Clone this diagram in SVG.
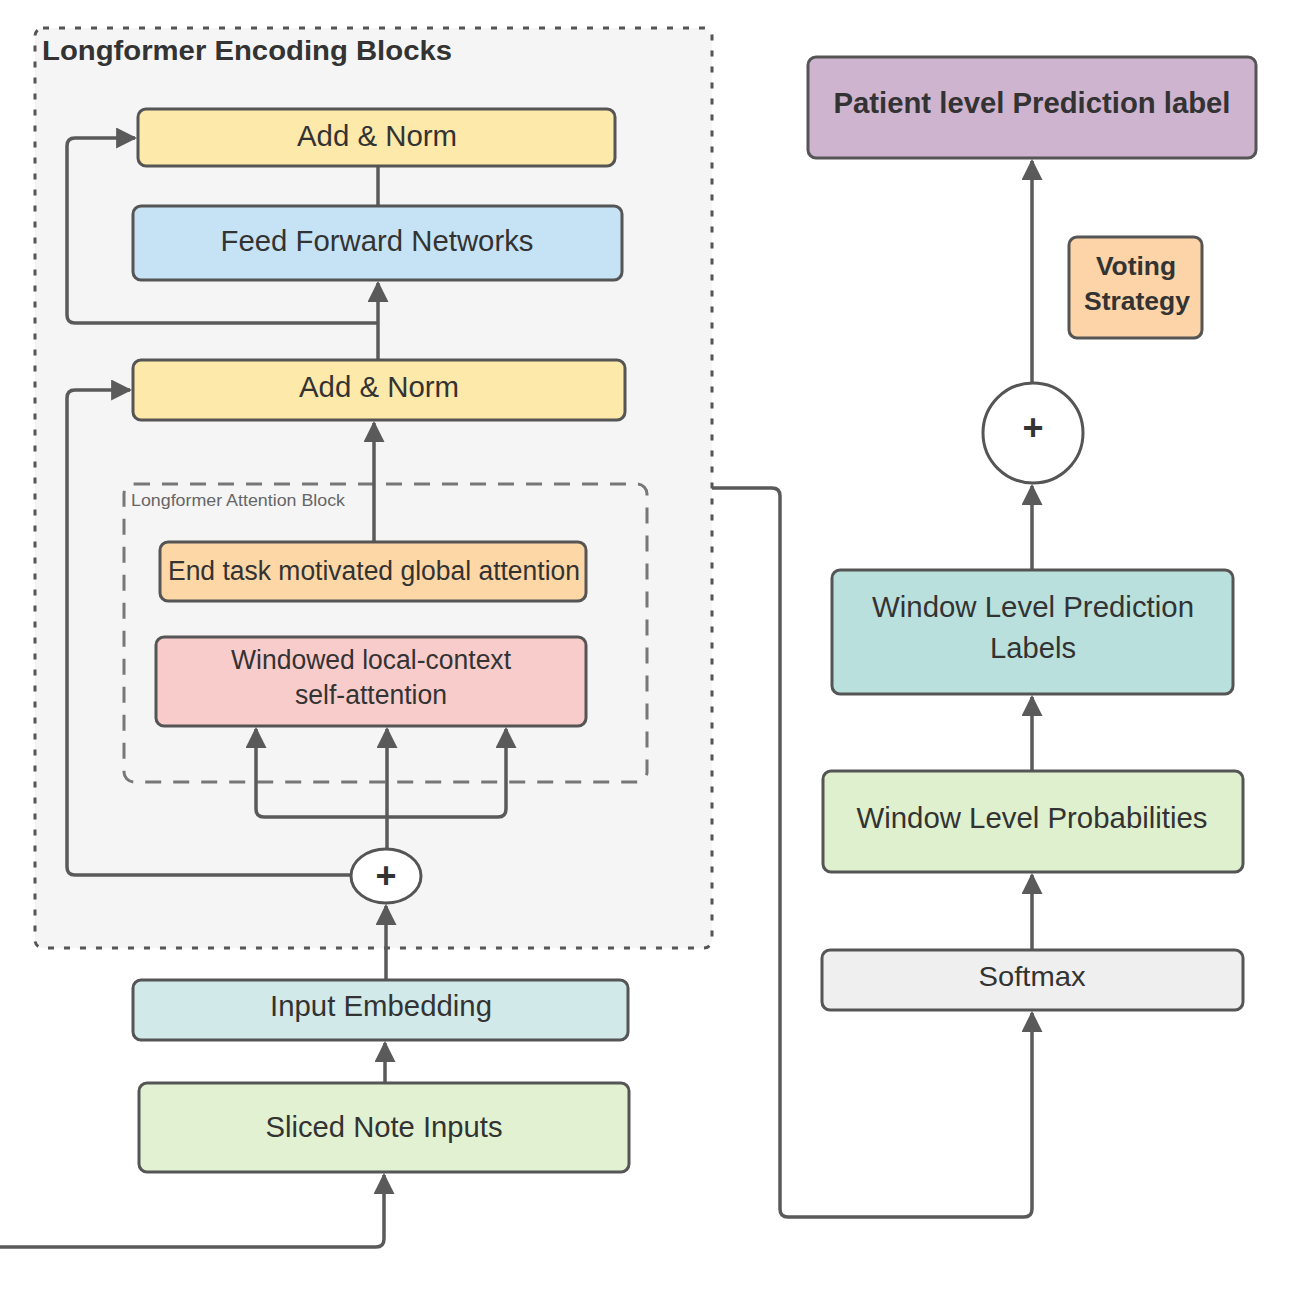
<svg xmlns="http://www.w3.org/2000/svg" width="1290" height="1290" viewBox="0 0 1290 1290">
<defs>
<marker id="ah" viewBox="0 0 10 10" refX="9" refY="5" markerWidth="6" markerHeight="6" orient="auto" markerUnits="strokeWidth">
<path d="M0,0 L10,5 L0,10 z" fill="#5a5a5a"/>
</marker>
<style>
.box{stroke:#555;stroke-width:3}
.t{font-family:"Liberation Sans",Arial,sans-serif;fill:#333;text-anchor:middle}
.c{fill:none;stroke:#5a5a5a;stroke-width:3.5;stroke-linejoin:round}
.a{marker-end:url(#ah)}
</style>
</defs>
<rect width="1290" height="1290" fill="#ffffff"/>
<g id="encoding-blocks">
<rect x="35" y="28" width="677" height="920" rx="8" fill="#f5f5f5" stroke="#555" stroke-width="3" stroke-dasharray="6 10"/>
<text x="42" y="60" font-family="Liberation Sans,Arial,sans-serif" font-weight="bold" font-size="28" fill="#333" textLength="410" lengthAdjust="spacingAndGlyphs">Longformer Encoding Blocks</text>
</g>
<g id="attention-block">
<rect x="124" y="484" width="523" height="298" rx="10" fill="none" stroke="#777" stroke-width="3" stroke-dasharray="16 12"/>
<text x="131" y="506" font-family="Liberation Sans,Arial,sans-serif" font-size="17" fill="#666" textLength="214" lengthAdjust="spacingAndGlyphs">Longformer Attention Block</text>
</g>
<g id="connectors">
<path class="c" d="M378,166 L378,206"/>
<path class="c a" d="M378,360 L378,283"/>
<path class="c a" d="M378,323 L75,323 Q67,323 67,315 L67,146 Q67,138 75,138 L135,138"/>
<path class="c a" d="M374,542 L374,423"/>
<path class="c a" d="M350,875 L75,875 Q67,875 67,867 L67,398 Q67,390 75,390 L130,390"/>
<path class="c a" d="M387,848 L387,729"/>
<path class="c a" d="M387,817 L264,817 Q256,817 256,809 L256,729"/>
<path class="c a" d="M387,817 L498,817 Q506,817 506,809 L506,729"/>
<path class="c a" d="M386,980 L386,906"/>
<path class="c a" d="M385,1083 L385,1043"/>
<path class="c a" d="M0,1247 L376,1247 Q384,1247 384,1239 L384,1175"/>
<path class="c a" d="M712,488 L772,488 Q780,488 780,496 L780,1209 Q780,1217 788,1217 L1024,1217 Q1032,1217 1032,1209 L1032,1013"/>
<path class="c a" d="M1032,950 L1032,875"/>
<path class="c a" d="M1032,771 L1032,697"/>
<path class="c a" d="M1032,570 L1032,486"/>
<path class="c a" d="M1032,383 L1032,161"/>
</g>
<g id="add-norm-top">
<rect class="box" x="138" y="109" width="477" height="57" rx="8" fill="#fde9a9"/>
<text class="t" x="377" y="146" font-size="30" textLength="160" lengthAdjust="spacingAndGlyphs">Add &amp; Norm</text>
</g>
<g id="feed-forward">
<rect class="box" x="133" y="206" width="489" height="74" rx="8" fill="#c6e3f5"/>
<text class="t" x="377" y="251" font-size="30" textLength="313" lengthAdjust="spacingAndGlyphs">Feed Forward Networks</text>
</g>
<g id="add-norm-bottom">
<rect class="box" x="133" y="360" width="492" height="60" rx="8" fill="#fde9a9"/>
<text class="t" x="379" y="397" font-size="30" textLength="160" lengthAdjust="spacingAndGlyphs">Add &amp; Norm</text>
</g>
<g id="global-attention">
<rect class="box" x="160" y="542" width="426" height="59" rx="8" fill="#fdd7a6"/>
<text class="t" x="374" y="580" font-size="27" textLength="412" lengthAdjust="spacingAndGlyphs">End task motivated global attention</text>
</g>
<g id="windowed-attention">
<rect class="box" x="156" y="637" width="430" height="89" rx="8" fill="#f8cccb"/>
<text class="t" x="371" y="669" font-size="27" textLength="280" lengthAdjust="spacingAndGlyphs">Windowed local-context</text>
<text class="t" x="371" y="704" font-size="27" textLength="152" lengthAdjust="spacingAndGlyphs">self-attention</text>
</g>
<g id="plus-left">
<ellipse cx="386" cy="876" rx="35" ry="27" fill="#ffffff" stroke="#555" stroke-width="3"/>
<text class="t" x="386" y="888" font-size="36" font-weight="bold">+</text>
</g>
<g id="input-embedding">
<rect class="box" x="133" y="980" width="495" height="60" rx="8" fill="#d1e9e9"/>
<text class="t" x="381" y="1016" font-size="30" textLength="222" lengthAdjust="spacingAndGlyphs">Input Embedding</text>
</g>
<g id="sliced-note-inputs">
<rect class="box" x="139" y="1083" width="490" height="89" rx="8" fill="#e1f1d2"/>
<text class="t" x="384" y="1137" font-size="30" textLength="237" lengthAdjust="spacingAndGlyphs">Sliced Note Inputs</text>
</g>
<g id="patient-label">
<rect class="box" x="808" y="57" width="448" height="101" rx="8" fill="#cfb4cf"/>
<text class="t" x="1032" y="113" font-size="29" font-weight="bold" fill="#3a2b3a" textLength="397" lengthAdjust="spacingAndGlyphs">Patient level Prediction label</text>
</g>
<g id="voting-strategy">
<rect class="box" x="1069" y="237" width="133" height="101" rx="8" fill="#fcd4a8"/>
<text class="t" x="1136" y="275" font-size="26" font-weight="bold" textLength="80" lengthAdjust="spacingAndGlyphs">Voting</text>
<text class="t" x="1137" y="310" font-size="26" font-weight="bold" textLength="106" lengthAdjust="spacingAndGlyphs">Strategy</text>
</g>
<g id="plus-right">
<circle cx="1033" cy="433" r="50" fill="#ffffff" stroke="#555" stroke-width="3"/>
<text class="t" x="1033" y="440" font-size="36" font-weight="bold">+</text>
</g>
<g id="window-prediction-labels">
<rect class="box" x="832" y="570" width="401" height="124" rx="8" fill="#b9e0dc"/>
<text class="t" x="1033" y="617" font-size="29" textLength="322" lengthAdjust="spacingAndGlyphs">Window Level Prediction</text>
<text class="t" x="1033" y="658" font-size="29" textLength="86" lengthAdjust="spacingAndGlyphs">Labels</text>
</g>
<g id="window-probabilities">
<rect class="box" x="823" y="771" width="420" height="101" rx="8" fill="#dff0cf"/>
<text class="t" x="1032" y="828" font-size="29" textLength="351" lengthAdjust="spacingAndGlyphs">Window Level Probabilities</text>
</g>
<g id="softmax">
<rect class="box" x="822" y="950" width="421" height="60" rx="8" fill="#efefef"/>
<text class="t" x="1032" y="986" font-size="28" textLength="107" lengthAdjust="spacingAndGlyphs">Softmax</text>
</g>
</svg>
